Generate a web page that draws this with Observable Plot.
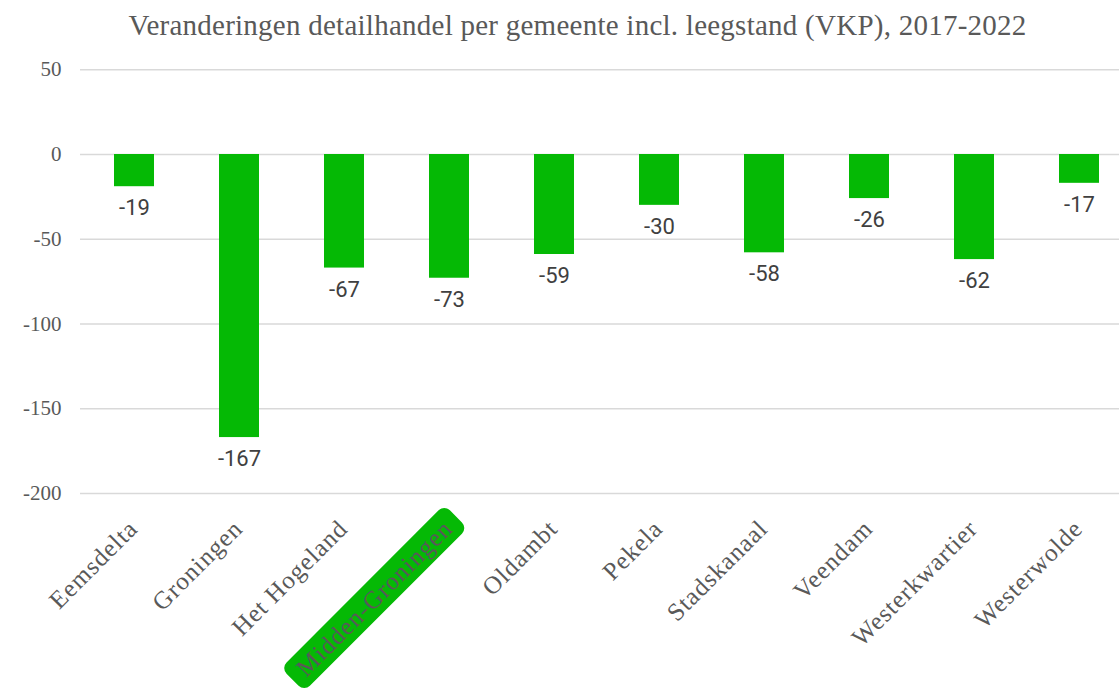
<!DOCTYPE html>
<html>
<head>
<meta charset="utf-8">
<script src="https://cdn.jsdelivr.net/npm/d3@7"></script>
<script src="https://cdn.jsdelivr.net/npm/@observablehq/plot@0.6"></script>
<style>
  html, body { margin: 0; padding: 0; background: #fff; overflow: hidden; }
  #title { height: 54px; line-height: 50px; text-align: center; padding-left: 36px; box-sizing: border-box;
    font-family: "Liberation Serif", serif; font-size: 29px; letter-spacing: 0.25px; color: #595959; white-space: nowrap; }
  #chart svg { display: block; }
</style>
</head>
<body>
<div id="title">Veranderingen detailhandel per gemeente incl. leegstand (VKP), 2017-2022</div>
<div id="chart"></div>
<script>
const gemeenten = ["Eemsdelta", "Groningen", "Het Hogeland", "Midden-Groningen", "Oldambt", "Pekela", "Stadskanaal", "Veendam", "Westerkwartier", "Westerwolde"];
const veranderingen = [-19, -167, -67, -73, -59, -30, -58, -26, -62, -17];
const yTicks = [50, 0, -50, -100, -150, -200];
const highlighted = "Midden-Groningen";

const data = gemeenten.map((g, i) => ({gemeente: g, waarde: veranderingen[i]}));
const green = "#05b905";

const plot = Plot.plot({
  width: 1119,
  height: 643,
  marginLeft: 80,
  marginRight: 0,
  marginTop: 15.25,
  marginBottom: 204,
  style: {fontFamily: "Liberation Serif", fontSize: "20px", color: "#595959"},
  x: {domain: gemeenten, range: [80.35, 1133.4], paddingInner: 0.62, paddingOuter: 0.31, axis: null},
  y: {domain: [-200, 50], axis: null},
  marks: [
    Plot.ruleY(yTicks, {stroke: "#d9d9d9", strokeWidth: 1.5}),
    // y tick labels
    Plot.text(yTicks, {y: d => d, text: d => String(d), frameAnchor: "left", textAnchor: "end", dx: -19,
      fontSize: 21, fontFamily: "Liberation Serif", fill: "#595959"}),
    Plot.barY(data, {x: "gemeente", y: "waarde", fill: green}),
    Plot.text(data, {x: "gemeente", y: "waarde", text: d => String(d.waarde), lineAnchor: "top", dy: 13,
      fontSize: 22, fontFamily: "Roboto", fill: "#404040"}),
    // x tick labels
    Plot.text(gemeenten, {x: d => d, y: () => -200, text: d => d, rotate: -45, textAnchor: "end",
      dx: -1, dy: 31, fontSize: 25, fontFamily: "Liberation Serif", fill: "#595959",
      className: "xlabels"})
  ]
});
plot.style.overflow = "hidden";
document.getElementById("chart").appendChild(plot);

const labelTexts = plot.querySelectorAll(".xlabels text");
labelTexts.forEach(t => t.setAttribute("letter-spacing", "1"));

// highlight box behind the selected label
labelTexts.forEach(t => {
  if (t.textContent === highlighted) {
    const b = t.getBBox();
    const padX = 11, padY = 3;
    const r = document.createElementNS("http://www.w3.org/2000/svg", "rect");
    r.setAttribute("x", b.x - padX);
    r.setAttribute("y", b.y - padY);
    r.setAttribute("width", b.width + 2 * padX);
    r.setAttribute("height", b.height + 2 * padY);
    r.setAttribute("rx", 8);
    r.setAttribute("fill", green);
    if (t.getAttribute("transform")) r.setAttribute("transform", t.getAttribute("transform"));
    t.parentNode.insertBefore(r, t);
  }
});
</script>
</body>
</html>
